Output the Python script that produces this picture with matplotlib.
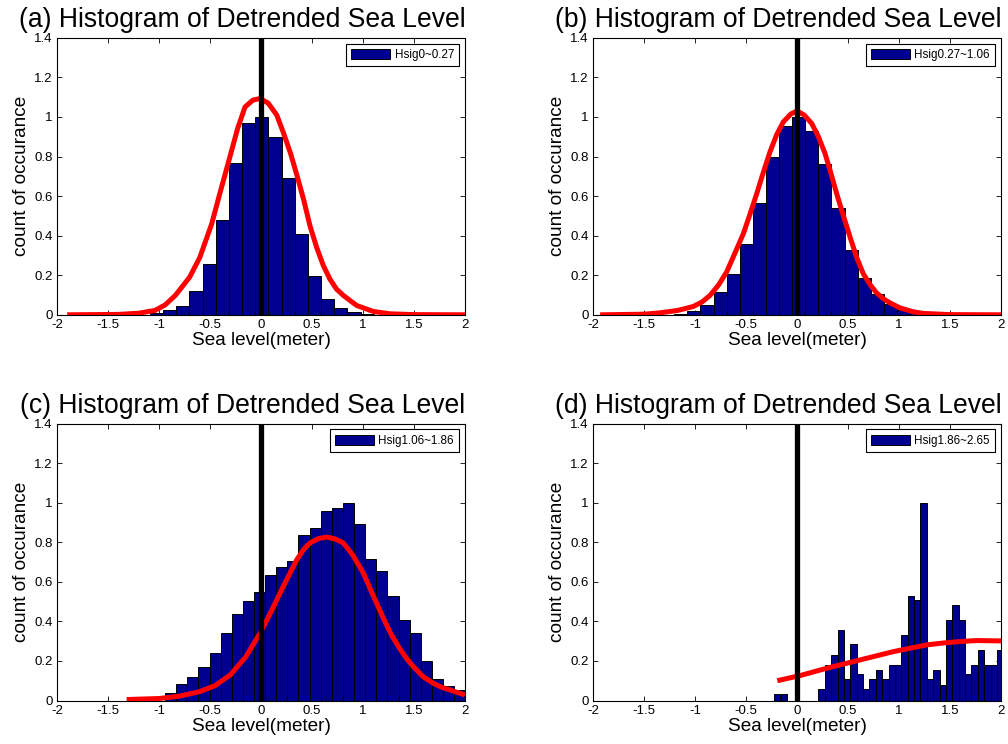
import matplotlib
matplotlib.use('Agg')
import matplotlib.pyplot as plt

plt.rcParams['font.family'] = ['Liberation Sans', 'DejaVu Sans']
plt.rcParams['axes.unicode_minus'] = False

titles = ['(a) Histogram of Detrended Sea Level',
          '(b) Histogram of Detrended Sea Level',
          '(c) Histogram of Detrended Sea Level',
          '(d) Histogram of Detrended Sea Level']
legend_labels = ['Hsig0~0.27', 'Hsig0.27~1.06', 'Hsig1.06~1.86', 'Hsig1.86~2.65']

# normalised histograms (bin centre, count / max count)
a_centers = [-1.024, -0.895, -0.766, -0.637, -0.508, -0.379, -0.250, -0.121, 0.008,
             0.137, 0.266, 0.395, 0.524, 0.653, 0.782, 0.911, 1.040]
a_counts = [0.008, 0.022, 0.047, 0.118, 0.255, 0.48, 0.767, 0.97, 1.0,
            0.90, 0.69, 0.41, 0.197, 0.081, 0.033, 0.013, 0.004]

b_centers = [-1.139, -1.011, -0.882, -0.754, -0.626, -0.497, -0.369, -0.240, -0.112, 0.017,
             0.145, 0.273, 0.402, 0.530, 0.659, 0.787, 0.915, 1.044, 1.172]
b_counts = [0.006, 0.017, 0.052, 0.114, 0.207, 0.36, 0.567, 0.80, 0.953, 1.0,
            0.93, 0.76, 0.54, 0.33, 0.187, 0.106, 0.056, 0.025, 0.008]

c_centers = [-0.886, -0.777, -0.668, -0.559, -0.450, -0.341, -0.232, -0.123, -0.014,
             0.095, 0.204, 0.313, 0.422, 0.531, 0.640, 0.749, 0.858, 0.967, 1.076,
             1.185, 1.294, 1.403, 1.512, 1.621, 1.730, 1.839, 1.948]
c_counts = [0.036, 0.082, 0.12, 0.171, 0.239, 0.34, 0.438, 0.504, 0.55,
            0.635, 0.674, 0.703, 0.838, 0.87, 0.959, 0.974, 1.0, 0.893, 0.716,
            0.657, 0.527, 0.407, 0.34, 0.2, 0.109, 0.073, 0.053]

d_centers = [-0.197, -0.127,
             0.241, 0.304, 0.366, 0.429, 0.491, 0.554, 0.616, 0.679, 0.741, 0.804,
             0.866, 0.929, 0.991, 1.054, 1.116, 1.179, 1.241, 1.304, 1.366, 1.429,
             1.491, 1.554, 1.616, 1.679, 1.741, 1.804, 1.866, 1.929, 1.991]
d_counts = [0.031, 0.031,
            0.057, 0.18, 0.23, 0.357, 0.109, 0.284, 0.133, 0.057, 0.109, 0.154,
            0.109, 0.18, 0.18, 0.331, 0.53, 0.509, 1.0, 0.109, 0.154, 0.078,
            0.407, 0.483, 0.407, 0.133, 0.18, 0.256, 0.18, 0.18, 0.256]

# fitted normal curves
a_fit_x = [-1.9, -1.4, -1.2, -1.04, -0.94, -0.84, -0.70, -0.6, -0.483, -0.4, -0.304,
           -0.23, -0.157, -0.08, -0.01, 0.07, 0.154, 0.22, 0.29, 0.355, 0.42, 0.48,
           0.546, 0.61, 0.676, 0.74, 0.807, 0.938, 1.1, 1.265, 1.5, 2.0]
a_fit_y = [0, 0.002, 0.008, 0.022, 0.05, 0.098, 0.19, 0.29, 0.46, 0.62, 0.80,
           0.94, 1.05, 1.085, 1.093, 1.07, 1.01, 0.92, 0.815, 0.70, 0.578, 0.45,
           0.34, 0.25, 0.18, 0.13, 0.098, 0.047, 0.017, 0.005, 0.001, 0]

b_fit_x = [-1.93, -1.5, -1.343, -1.17, -1.017, -0.93, -0.853, -0.77, -0.69, -0.61, -0.526,
           -0.46, -0.395, -0.33, -0.265, -0.2, -0.134, -0.06, 0.0, 0.07, 0.144, 0.21,
           0.275, 0.33, 0.389, 0.455, 0.52, 0.585, 0.65, 0.72, 0.781, 0.85, 0.912,
           1.01, 1.14, 1.24, 1.5, 2.0]
b_fit_y = [0, 0.003, 0.01, 0.022, 0.042, 0.065, 0.098, 0.15, 0.216, 0.31, 0.41,
           0.51, 0.612, 0.72, 0.823, 0.91, 0.975, 1.015, 1.03, 1.01, 0.967, 0.90,
           0.815, 0.72, 0.612, 0.50, 0.393, 0.29, 0.207, 0.15, 0.11, 0.08, 0.06,
           0.035, 0.015, 0.007, 0.001, 0]

c_fit_x = [-1.317, -1.0, -0.8, -0.6, -0.45, -0.3, -0.15, -0.01, 0.1, 0.186, 0.27,
           0.35, 0.42, 0.48, 0.56, 0.644, 0.72, 0.807, 0.9, 1.003, 1.1, 1.2, 1.28,
           1.363, 1.43, 1.494, 1.59, 1.69, 1.77, 1.853, 2.0]
c_fit_y = [0.005, 0.01, 0.022, 0.045, 0.075, 0.13, 0.22, 0.34, 0.45, 0.543, 0.63,
           0.711, 0.765, 0.796, 0.818, 0.826, 0.818, 0.796, 0.735, 0.644, 0.53, 0.415, 0.33,
           0.26, 0.21, 0.171, 0.12, 0.087, 0.067, 0.053, 0.028]

d_fit_x = [-0.193, 0.03, 0.291, 0.618, 0.944, 1.271, 1.44, 1.598, 1.761, 2.02]
d_fit_y = [0.1, 0.126, 0.163, 0.205, 0.247, 0.281, 0.291, 0.298, 0.303, 0.301]

xticks = [-2, -1.5, -1, -0.5, 0, 0.5, 1, 1.5, 2]
xticklabels = ['-2', '-1.5', '-1', '-0.5', '0', '0.5', '1', '1.5', '2']
yticks = [0, 0.2, 0.4, 0.6, 0.8, 1, 1.2, 1.4]
yticklabels = ['0', '0.2', '0.4', '0.6', '0.8', '1', '1.2', '1.4']

panels = [
    (a_centers, a_counts, 0.129, a_fit_x, a_fit_y),
    (b_centers, b_counts, 0.1284, b_fit_x, b_fit_y),
    (c_centers, c_counts, 0.109, c_fit_x, c_fit_y),
    (d_centers, d_counts, 0.0625, d_fit_x, d_fit_y),
]
# axes corners in pixels (left, top)
corners = [(57, 37.8), (593, 37.8), (57, 423.5), (593, 423.5)]
W, H = 1008, 744
aw, ah = 408, 277

fig = plt.figure(figsize=(W / 100, H / 100), dpi=100)

for i, (cx, cy, bw, fx, fy) in enumerate(panels):
    l, t = corners[i]
    ax = fig.add_axes([l / W, 1 - (t + ah) / H, aw / W, ah / H])
    bars = ax.bar(cx, cy, width=bw, color='#00008F', edgecolor='black',
                  linewidth=0.7, label=legend_labels[i], zorder=2)
    ax.plot(fx, fy, color='red', lw=3.6, solid_joinstyle='round',
            solid_capstyle='butt', zorder=3)
    ax.axvline(0, color='black', lw=3.8, zorder=4)

    ax.set_xlim(-2, 2)
    ax.set_ylim(0, 1.4)
    ax.set_xticks(xticks)
    ax.set_xticklabels(xticklabels)
    ax.set_yticks(yticks)
    ax.set_yticklabels(yticklabels)
    ax.tick_params(direction='in', top=True, right=True, length=3.5, width=0.6,
                   labelsize=9.5, pad=3)
    for s in ax.spines.values():
        s.set_linewidth(0.8)

    ax.set_title(titles[i], fontsize=19.1, pad=7.5)
    ax.title.set_x(0.455)
    ax.set_xlabel('Sea level(meter)', fontsize=13.7, labelpad=1)
    ax.set_ylabel('count of occurance', fontsize=13.7, labelpad=3)

    leg = ax.legend(handles=[bars], loc='upper right', fontsize=8.4, fancybox=False,
                    edgecolor='black', framealpha=1, borderaxespad=0.5,
                    handlelength=3.3, handleheight=1.0, handletextpad=0.4,
                    borderpad=0.45)
    leg.get_frame().set_linewidth(0.8)

fig.savefig('out.png', dpi=100)
